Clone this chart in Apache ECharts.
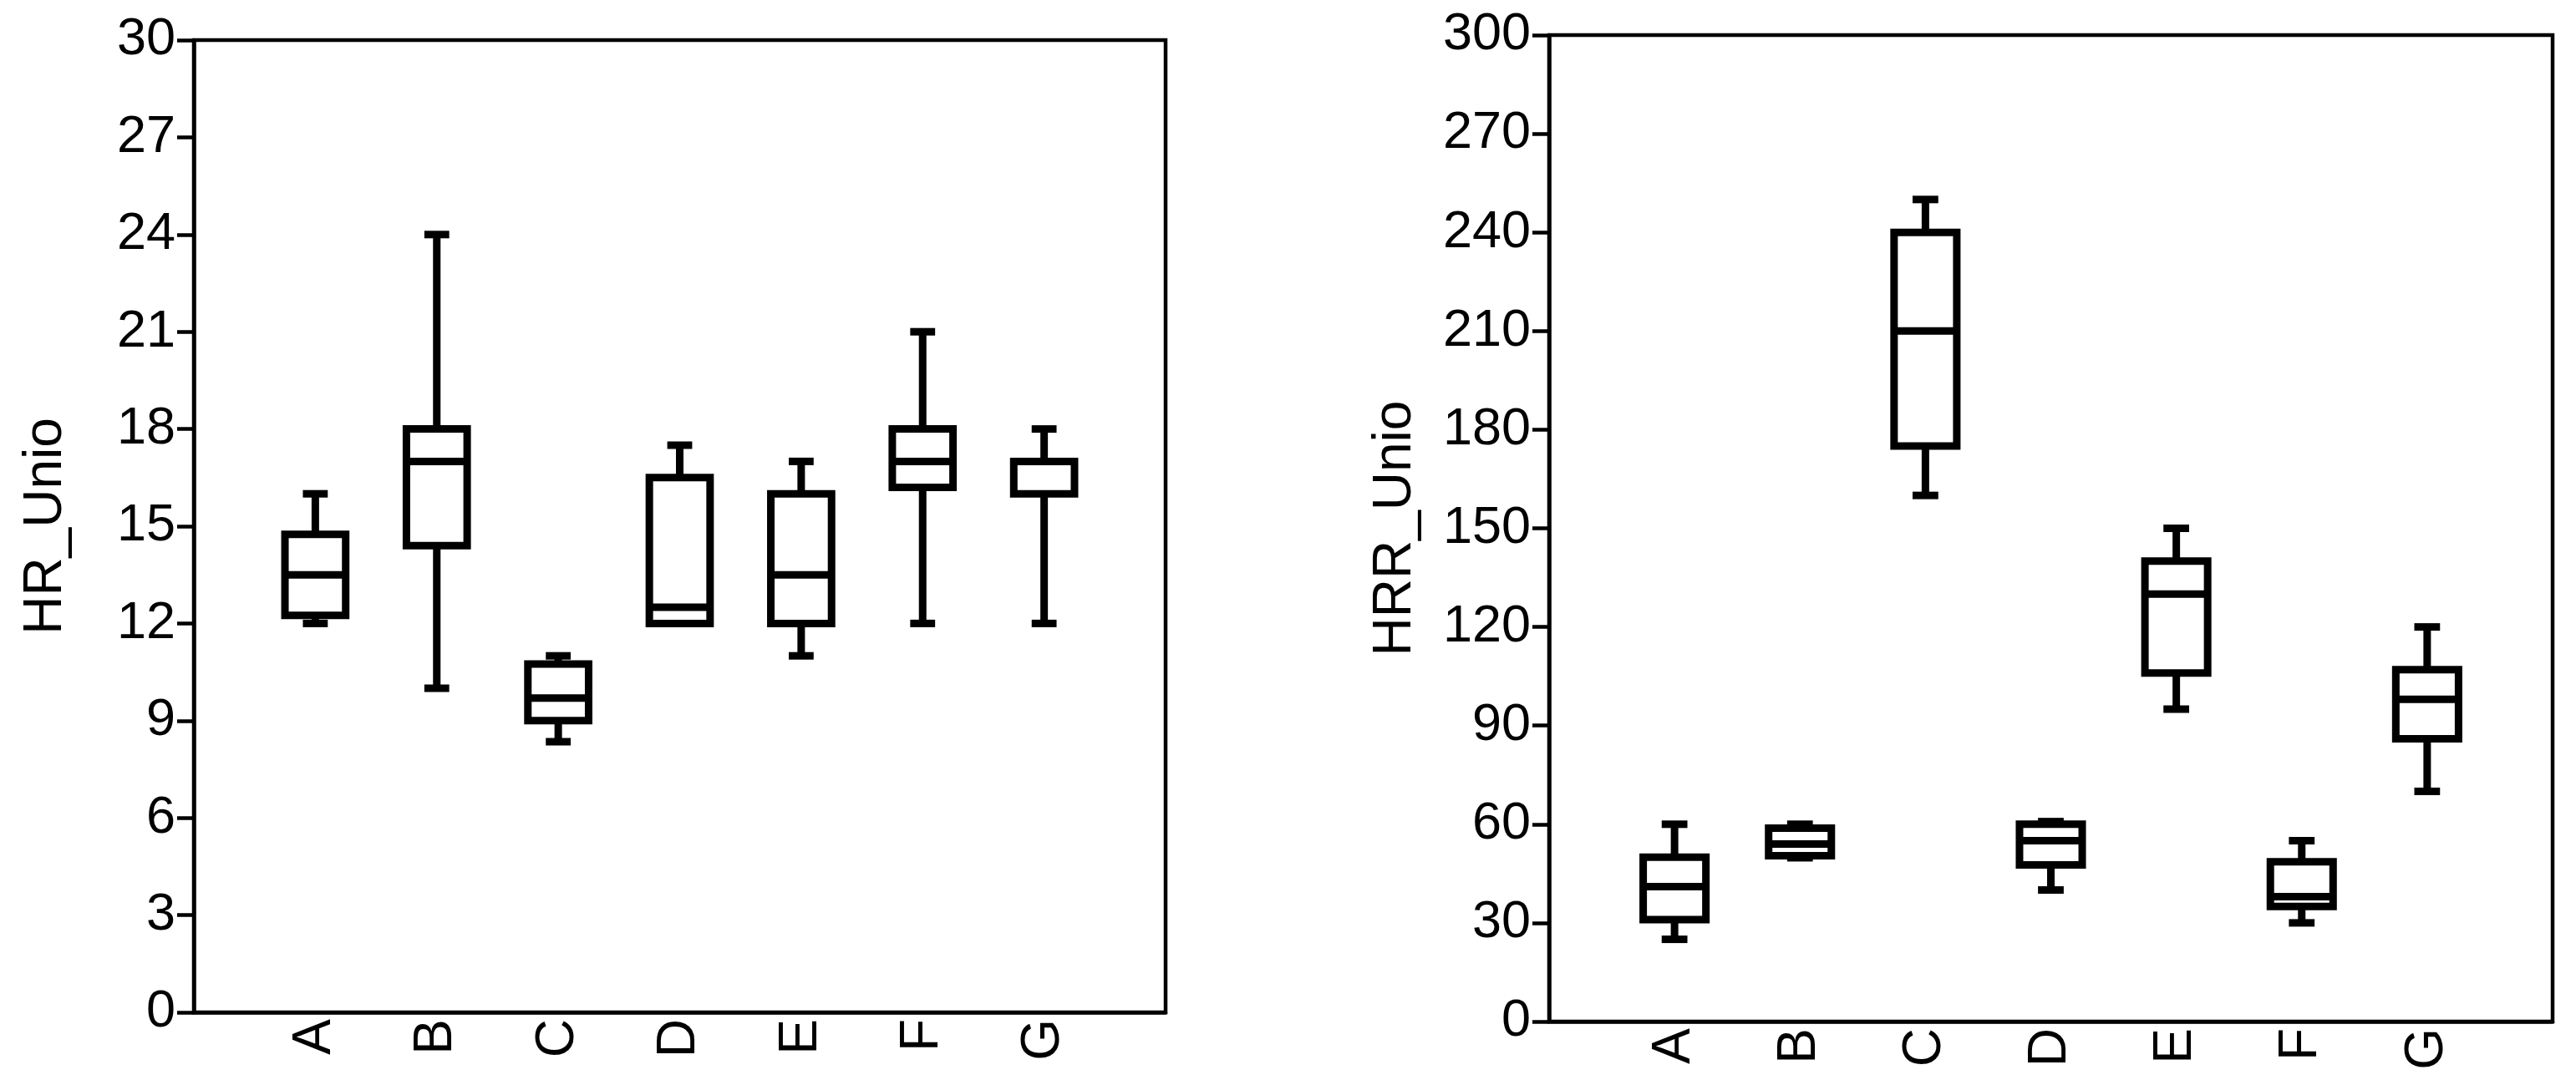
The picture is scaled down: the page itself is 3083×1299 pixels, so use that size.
<!DOCTYPE html>
<html>
<head>
<meta charset="utf-8">
<script src="https://cdn.jsdelivr.net/npm/echarts@6/dist/echarts.min.js"></script>
<style>
  html, body { margin: 0; padding: 0; background: #fff; }
  #chart { width: 3083px; height: 1299px; }
</style>
</head>
<body>
<div id="chart"></div>
<script>
// group names on the x axis
var categories = ['A', 'B', 'C', 'D', 'E', 'F', 'G'];

// five-number summaries [min, Q1, median, Q3, max] per group
var hrUnio = [
    [12, 12.25, 13.5, 14.75, 16],
    [10, 14.4, 17, 18, 24],
    [8.35, 9, 9.7, 10.75, 11],
    [12, 12, 12.5, 16.5, 17.5],
    [11, 12, 13.5, 16, 17],
    [12, 16.2, 17, 18, 21],
    [12, 16, 17, 17, 18]
];
var hrrUnio = [
    [25, 31, 41, 50, 60],
    [49.8, 50.4, 54, 58.8, 60],
    [160, 175, 210, 240, 250],
    [40, 47.6, 55, 60, 60.8],
    [95, 106, 130, 140, 150],
    [30, 35, 38, 48.6, 55],
    [70, 86, 98, 107, 120]
];

// y axis ranges / steps
var hrTicks = { min: 0, max: 30, step: 3 };
var hrrTicks = { min: 0, max: 300, step: 30 };

var FONT = "'Liberation Sans', Arial, sans-serif";
var LW = 4.5;

function toRows(stats) {
    return stats.map(function (s, i) {
        return [i + 1].concat(s);
    });
}

function renderBox(params, api) {
    var x = api.value(0);
    var lo = api.coord([x, api.value(1)]);
    var q1 = api.coord([x, api.value(2)]);
    var md = api.coord([x, api.value(3)]);
    var q3 = api.coord([x, api.value(4)]);
    var hi = api.coord([x, api.value(5)]);
    var band = api.size([1, 0])[0];
    var bw = band * 0.5;
    var cw = band * 0.205;
    var cx = lo[0];
    var st = { stroke: '#000', lineWidth: 9, fill: null };
    return {
        type: 'group',
        children: [
            { type: 'line', shape: { x1: cx, y1: hi[1], x2: cx, y2: q3[1] }, style: st },
            { type: 'line', shape: { x1: cx, y1: lo[1], x2: cx, y2: q1[1] }, style: st },
            { type: 'line', shape: { x1: cx - cw / 2, y1: hi[1], x2: cx + cw / 2, y2: hi[1] }, style: st },
            { type: 'line', shape: { x1: cx - cw / 2, y1: lo[1], x2: cx + cw / 2, y2: lo[1] }, style: st },
            { type: 'rect', shape: { x: cx - bw / 2, y: q3[1], width: bw, height: q1[1] - q3[1] },
              style: { stroke: '#000', lineWidth: 9, fill: '#fff', lineJoin: 'miter' } },
            { type: 'line', shape: { x1: cx - bw / 2, y1: md[1], x2: cx + bw / 2, y2: md[1] }, style: st }
        ]
    };
}

function xAxisFor(gi) {
    return {
        gridIndex: gi,
        type: 'value',
        min: 0,
        max: 8,
        interval: 1,
        splitLine: { show: false },
        axisTick: { show: false },
        axisLine: { show: true, onZero: false, lineStyle: { color: '#000', width: LW } },
        axisLabel: {
            rotate: 90,
            margin: 8,
            padding: [12, 0, 0, 0],
            color: '#000',
            fontFamily: FONT,
            fontSize: 64,
            formatter: function (v) { return categories[v - 1] || ''; }
        }
    };
}

function yAxisFor(gi, t, name, gap) {
    return {
        gridIndex: gi,
        type: 'value',
        min: t.min,
        max: t.max,
        interval: t.step,
        name: name,
        nameLocation: 'middle',
        nameRotate: 90,
        nameGap: gap,
        nameTextStyle: { color: '#000', fontFamily: FONT, fontSize: 64 },
        splitLine: { show: false },
        axisLine: { show: true, lineStyle: { color: '#000', width: LW } },
        axisTick: { show: true, length: 20, lineStyle: { color: '#000', width: LW } },
        axisLabel: { margin: 22, color: '#000', fontFamily: FONT, fontSize: 63 }
    };
}

var chart = echarts.init(document.getElementById('chart'));
chart.setOption({
    animation: false,
    backgroundColor: '#fff',
    grid: [
        { left: 232, top: 48, width: 1163, height: 1164, show: true, borderColor: '#000', borderWidth: LW },
        { left: 1854, top: 42, width: 1201, height: 1181, show: true, borderColor: '#000', borderWidth: LW }
    ],
    xAxis: [xAxisFor(0), xAxisFor(1)],
    yAxis: [
        yAxisFor(0, hrTicks, 'HR_Unio', 145),
        yAxisFor(1, hrrTicks, 'HRR_Unio', 152)
    ],
    series: [
        {
            name: 'HR_Unio',
            type: 'custom',
            xAxisIndex: 0,
            yAxisIndex: 0,
            renderItem: renderBox,
            encode: { x: 0, y: [1, 2, 3, 4, 5] },
            data: toRows(hrUnio)
        },
        {
            name: 'HRR_Unio',
            type: 'custom',
            xAxisIndex: 1,
            yAxisIndex: 1,
            renderItem: renderBox,
            encode: { x: 0, y: [1, 2, 3, 4, 5] },
            data: toRows(hrrUnio)
        }
    ]
});
</script>
</body>
</html>
